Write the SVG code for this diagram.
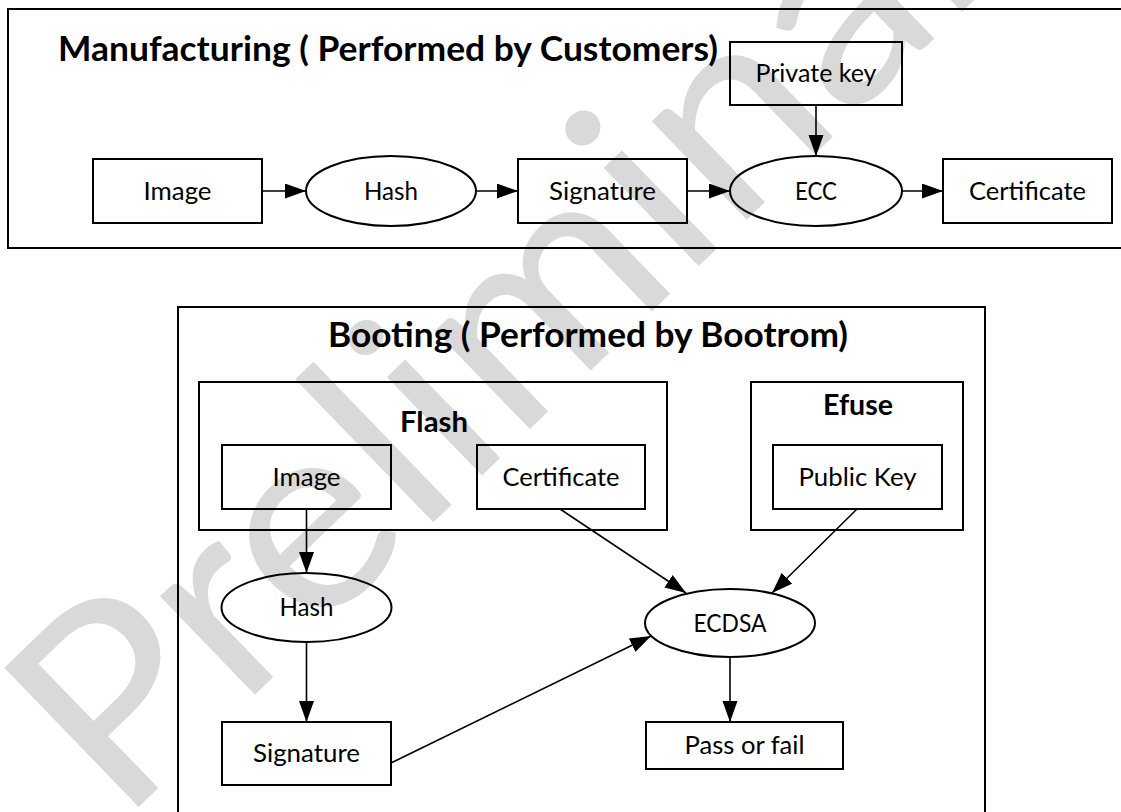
<svg xmlns="http://www.w3.org/2000/svg" width="1121" height="812" viewBox="0 0 1121 812">
<style>
.frame{fill:none;stroke:#000;stroke-width:2}
.box{fill:none;stroke:#000;stroke-width:2}
.conn{fill:none;stroke:#000;stroke-width:1.6}
.lbl{font-family:Lato,"Open Sans","Liberation Sans",sans-serif;font-size:24.5px;fill:#000;text-anchor:middle}
.title{font-family:Lato,"Open Sans","Liberation Sans",sans-serif;font-weight:bold;font-size:34px;fill:#000}
.sub{font-family:Lato,"Open Sans","Liberation Sans",sans-serif;font-weight:bold;font-size:28.5px;fill:#000;text-anchor:middle}
.wm{font-family:Lato,"Open Sans","Liberation Sans",sans-serif;font-size:270px;fill:#d9d9d9}
</style>
<defs>
<marker id="arr" markerUnits="userSpaceOnUse" markerWidth="22" markerHeight="16" refX="21" refY="7.5" orient="auto">
<path d="M0,0 L21,7.5 L0,15 Z" fill="#000"/>
</marker>
</defs>
<rect width="1121" height="812" fill="#fff"/>
<text class="wm" transform="translate(120,825) rotate(-44)" x="0" y="0" textLength="1400" lengthAdjust="spacingAndGlyphs">Preliminary</text>

<g id="manufacturing">
<path class="frame" d="M1125,9 H8 V248 H1125"/>
<text class="title" x="58" y="61" textLength="660" lengthAdjust="spacingAndGlyphs">Manufacturing ( Performed by Customers)</text>
</g>
<g id="m-image"><rect class="box" x="93" y="159" width="169" height="64"/><text class="lbl" x="177.5" y="200" textLength="68" lengthAdjust="spacingAndGlyphs">Image</text></g>
<g id="m-hash"><ellipse class="box" cx="391" cy="191" rx="85" ry="35"/><text class="lbl" x="391" y="200" textLength="54" lengthAdjust="spacingAndGlyphs">Hash</text></g>
<g id="m-signature"><rect class="box" x="518" y="159" width="169" height="64"/><text class="lbl" x="602.5" y="200" textLength="107" lengthAdjust="spacingAndGlyphs">Signature</text></g>
<g id="m-privatekey"><rect class="box" x="730" y="42" width="172" height="63"/><text class="lbl" x="816" y="82" textLength="121" lengthAdjust="spacingAndGlyphs">Private key</text></g>
<g id="m-ecc"><ellipse class="box" cx="816" cy="191" rx="86" ry="35"/><text class="lbl" x="816" y="200" textLength="42" lengthAdjust="spacingAndGlyphs">ECC</text></g>
<g id="m-certificate"><rect class="box" x="943" y="159" width="169" height="64"/><text class="lbl" x="1027.5" y="200" textLength="117" lengthAdjust="spacingAndGlyphs">Certificate</text></g>

<g id="booting">
<path class="frame" d="M178,815 V307 H985 V815"/>
<text class="title" x="328" y="347" textLength="520" lengthAdjust="spacingAndGlyphs">Booting ( Performed by Bootrom)</text>
</g>
<g id="flash"><rect class="box" x="199" y="382" width="468" height="148"/><text class="sub" x="434" y="432" textLength="68" lengthAdjust="spacingAndGlyphs">Flash</text></g>
<g id="efuse"><rect class="box" x="751" y="382" width="212" height="148"/><text class="sub" x="858" y="415" textLength="70" lengthAdjust="spacingAndGlyphs">Efuse</text></g>
<g id="b-image"><rect class="box" x="222" y="445" width="169" height="64"/><text class="lbl" x="306.5" y="486" textLength="68" lengthAdjust="spacingAndGlyphs">Image</text></g>
<g id="b-certificate"><rect class="box" x="477" y="445" width="168" height="64"/><text class="lbl" x="561" y="486" textLength="117" lengthAdjust="spacingAndGlyphs">Certificate</text></g>
<g id="b-publickey"><rect class="box" x="773" y="445" width="169" height="64"/><text class="lbl" x="857.5" y="486" textLength="118" lengthAdjust="spacingAndGlyphs">Public Key</text></g>
<g id="b-hash"><ellipse class="box" cx="306.5" cy="607.5" rx="85" ry="34.5"/><text class="lbl" x="306.5" y="616" textLength="54" lengthAdjust="spacingAndGlyphs">Hash</text></g>
<g id="b-signature"><rect class="box" x="222" y="722" width="169" height="63"/><text class="lbl" x="306.5" y="762" textLength="107" lengthAdjust="spacingAndGlyphs">Signature</text></g>
<g id="b-ecdsa"><ellipse class="box" cx="730" cy="623" rx="85" ry="34"/><text class="lbl" x="730" y="632" textLength="73" lengthAdjust="spacingAndGlyphs">ECDSA</text></g>
<g id="b-passfail"><rect class="box" x="646" y="722" width="197" height="47"/><text class="lbl" x="744.5" y="754" textLength="120" lengthAdjust="spacingAndGlyphs">Pass or fail</text></g>

<g id="connectors">
<line class="conn" x1="262" y1="191" x2="306" y2="191" marker-end="url(#arr)"/>
<line class="conn" x1="476" y1="191" x2="518" y2="191" marker-end="url(#arr)"/>
<line class="conn" x1="687" y1="191" x2="730" y2="191" marker-end="url(#arr)"/>
<line class="conn" x1="902" y1="191" x2="943" y2="191" marker-end="url(#arr)"/>
<line class="conn" x1="816" y1="105" x2="816" y2="156" marker-end="url(#arr)"/>
<line class="conn" x1="306.5" y1="509" x2="306.5" y2="573" marker-end="url(#arr)"/>
<line class="conn" x1="306.5" y1="642" x2="306.5" y2="722" marker-end="url(#arr)"/>
<line class="conn" x1="560" y1="509" x2="686" y2="593" marker-end="url(#arr)"/>
<line class="conn" x1="857" y1="509" x2="772" y2="593" marker-end="url(#arr)"/>
<line class="conn" x1="391" y1="763" x2="651" y2="636" marker-end="url(#arr)"/>
<line class="conn" x1="730" y1="657" x2="730" y2="722" marker-end="url(#arr)"/>
</g>
</svg>
